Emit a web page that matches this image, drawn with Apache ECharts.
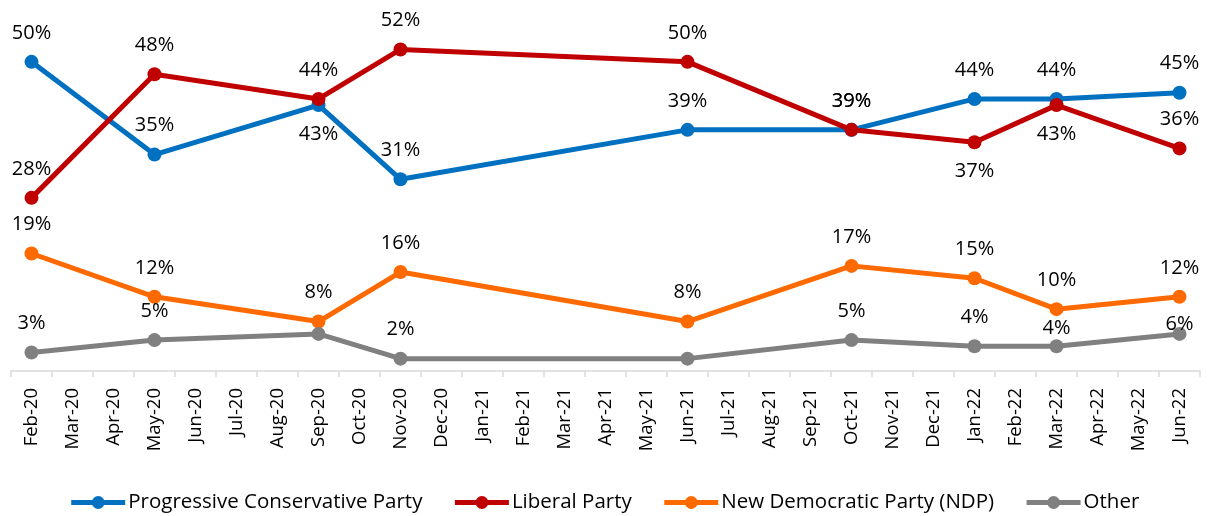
<!DOCTYPE html>
<html><head><meta charset="utf-8">
<script src="https://cdn.jsdelivr.net/npm/echarts@6/dist/echarts.min.js"></script>
<style>html,body{margin:0;padding:0;background:#fff}#c{width:1208px;height:516px}</style>
</head><body><div id="c"></div>
<script>
const months = ["Feb-20","Mar-20","Apr-20","May-20","Jun-20","Jul-20","Aug-20","Sep-20","Oct-20","Nov-20","Dec-20","Jan-21","Feb-21","Mar-21","Apr-21","May-21","Jun-21","Jul-21","Aug-21","Sep-21","Oct-21","Nov-21","Dec-21","Jan-22","Feb-22","Mar-22","Apr-22","May-22","Jun-22"];
const surveyMonths = ["Feb-20","May-20","Sep-20","Nov-20","Jun-21","Oct-21","Jan-22","Mar-22","Jun-22"];
const pcValues = [50,35,43,31,39,39,44,44,45];
const liberalValues = [28,48,44,52,50,39,37,43,36];
const ndpValues = [19,12,8,16,8,17,15,10,12];
const otherValues = [3,5,6,2,2,5,4,4,6];
const seriesNames = ["Progressive Conservative Party","Liberal Party","New Democratic Party (NDP)","Other"];

const colors = ["#0070C0","#C00000","#FF6A00","#808080"];
// label placement tweaks (style only)
const belowLabels = {0:["Sep-20"],1:["Jan-22","Mar-22"]};
const hiddenLabels = {3:["Sep-20","Jun-21"]};
const labelOffsets = {3:{"Mar-22":[0,11],"Jun-22":[0,19]}};

function build(values, si){
  return months.map(m=>{
    const k = surveyMonths.indexOf(m);
    if(k<0) return null;
    const item = {value: values[k]};
    const lab = {};
    if((belowLabels[si]||[]).includes(m)){ lab.position='bottom'; }
    if((hiddenLabels[si]||[]).includes(m)){ lab.show=false; }
    if(labelOffsets[si] && labelOffsets[si][m]){ lab.offset=labelOffsets[si][m]; }
    item.label = lab;
    return item;
  });
}
const allValues=[pcValues,liberalValues,ndpValues,otherValues];
const chart = echarts.init(document.getElementById('c'));
chart.setOption({
  animation:false,
  textStyle:{fontFamily:"Open Sans"},
  grid:{left:11,right:8,top:0,bottom:145},
  legend:{
    bottom:-2,left:'center',itemWidth:54,itemHeight:16,itemGap:30,
    lineStyle:{width:5},
    textStyle:{fontSize:20.5,color:'#000',fontFamily:'Open Sans',padding:[0,0,0,-2]},
    data:seriesNames
  },
  xAxis:{
    type:'category',data:months,boundaryGap:true,
    axisLine:{lineStyle:{color:'#D9D9D9',width:1.5}},
    axisTick:{show:true,length:6,lineStyle:{color:'#D9D9D9',width:1.5}},
    axisLabel:{rotate:90,fontSize:18.5,color:'#000',margin:17,interval:0,fontFamily:'Open Sans'}
  },
  yAxis:{type:'value',min:0,max:60,show:false,splitLine:{show:false}},
  series: seriesNames.map((n,i)=>({
    name:n,type:'line',connectNulls:true,
    data:build(allValues[i],i),
    symbol:'circle',symbolSize:14,
    lineStyle:{width:5,color:colors[i]},
    itemStyle:{color:colors[i]},
    label:{show:true,position:'top',distance:12,fontSize:20,color:'#000',formatter:p=>p.value+'%',fontFamily:'Open Sans'}
  }))
});
</script></body></html>
